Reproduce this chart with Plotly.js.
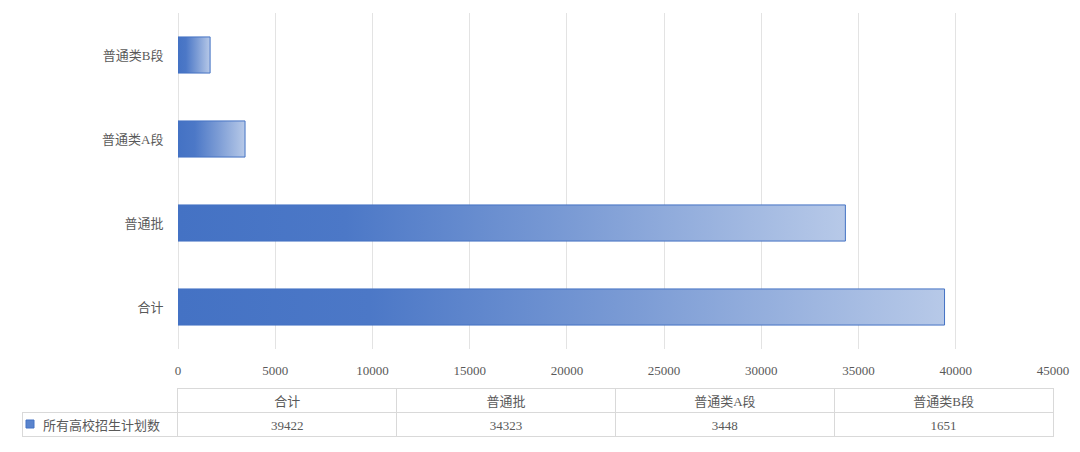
<!DOCTYPE html>
<html>
<head>
<meta charset="utf-8">
<script src="https://cdn.plot.ly/plotly-3.0.1.min.js"></script>
<style>html,body{margin:0;padding:0;background:#fff;}#chart{width:1080px;height:452px;}</style>
</head>
<body>
<div id="chart"></div>
<script>
// ---- data ----
const categories = ['合计', '普通批', '普通类A段', '普通类B段'];
const values = [39422, 34323, 3448, 1651];
const seriesName = '所有高校招生计划数';
const xTicks = [0, 5000, 10000, 15000, 20000, 25000, 30000, 35000, 40000, 45000];

// ---- style ----
const FONT = 'Liberation Serif, "Noto Sans CJK SC", serif';
const TXT = '#595959';
const GRID = '#e3e3e3';
const TGRID = '#d9d9d9';
const half = 0.215; // half bar thickness in category units

const traces = [];
values.forEach((v, i) => {
  traces.push({
    type: 'scatter',
    mode: 'lines',
    x: [0, v, v, 0, 0],
    y: [i - half, i - half, i + half, i + half, i - half],
    fill: 'toself',
    fillgradient: {
      type: 'horizontal',
      colorscale: [[0, 'rgb(68,114,196)'], [0.25, 'rgb(76,120,199)'], [0.6, 'rgb(124,156,213)'], [1, 'rgb(183,201,232)']]
    },
    line: {color: 'rgb(68,114,196)', width: 1},
    hoverinfo: 'skip',
    showlegend: false,
    xaxis: 'x', yaxis: 'y'
  });
});

// data table
const headerVals = [''].concat(categories);
const cellVals = [['\u2003' + seriesName]].concat(values.map(v => [String(v)]));
traces.push({
  type: 'table',
  domain: {x: [22/1080, 1053/1080], y: [0, 1 - 388/452]},
  columnwidth: [156, 219, 219, 219, 219],
  header: {
    values: headerVals,
    align: 'center',
    height: 24,
    font: {family: FONT, size: 13, color: TXT},
    fill: {color: 'white'},
    line: {color: ['rgba(0,0,0,0)', TGRID, TGRID, TGRID, TGRID], width: 1}
  },
  cells: {
    values: cellVals,
    align: ['left', 'center', 'center', 'center', 'center'],
    height: 24,
    font: {family: FONT, size: 13, color: TXT},
    fill: {color: 'white'},
    line: {color: TGRID, width: 1}
  }
});

const layout = {
  width: 1080, height: 452,
  margin: {l: 0, r: 0, t: 0, b: 0},
  paper_bgcolor: 'white', plot_bgcolor: 'white',
  showlegend: false,
  font: {family: FONT, size: 13, color: TXT},
  xaxis: {
    domain: [178/1080, 1053/1080],
    range: [0, 45000],
    tickvals: xTicks,
    ticktext: xTicks.map(String),
    showgrid: true, gridcolor: GRID, gridwidth: 1,
    zeroline: true, zerolinecolor: GRID, zerolinewidth: 1,
    showline: false,
    ticks: 'outside', ticklen: 9, tickcolor: 'rgba(0,0,0,0)',
    tickfont: {family: FONT, size: 13, color: TXT},
    fixedrange: true, anchor: 'y'
  },
  yaxis: {
    domain: [1 - 349/452, 1 - 13/452],
    range: [-0.5, categories.length - 0.5],
    tickvals: categories.map((c, i) => i),
    ticktext: categories,
    showgrid: false, zeroline: false, showline: false,
    ticks: 'outside', ticklen: 11, tickcolor: 'rgba(0,0,0,0)',
    tickfont: {family: FONT, size: 13, color: TXT},
    fixedrange: true, anchor: 'x'
  },
  shapes: [{
    type: 'rect', xref: 'paper', yref: 'paper',
    x0: 26/1080, x1: 34/1080, y0: 1 - 428/452, y1: 1 - 420/452,
    fillcolor: 'rgb(90,132,205)', line: {color: 'rgb(68,114,196)', width: 1}
  }]
};

Plotly.newPlot('chart', traces, layout, {displayModeBar: false, staticPlot: true});
</script>
</body>
</html>
